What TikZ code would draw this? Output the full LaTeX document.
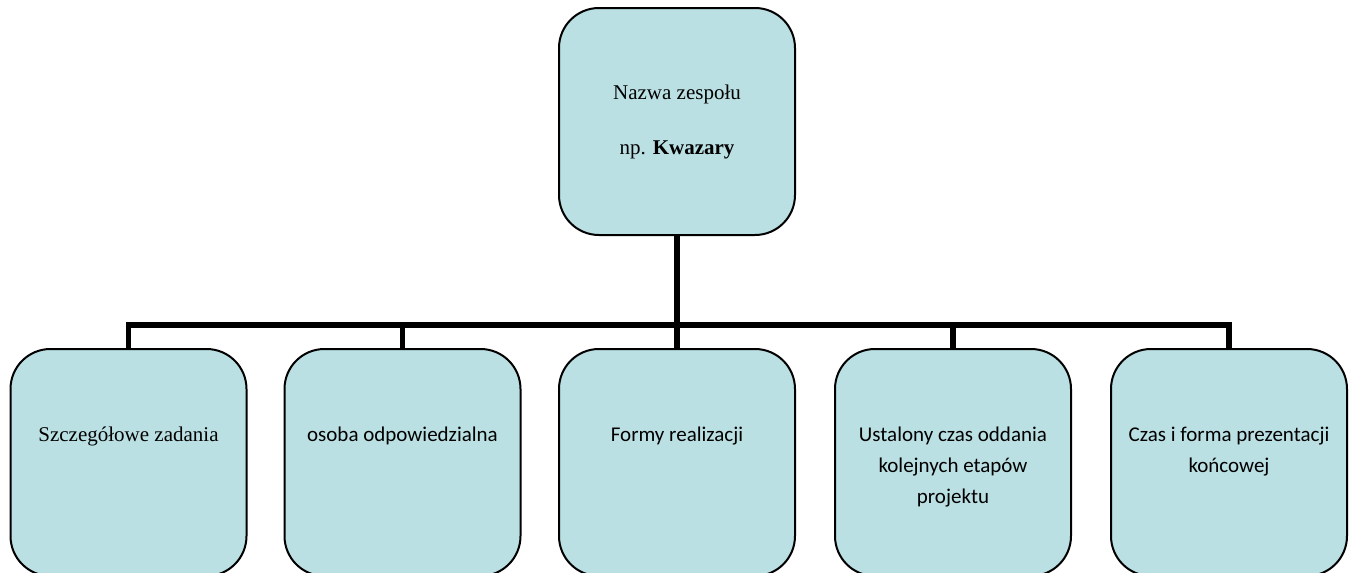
\documentclass[tikz,border=0pt]{standalone}
\usepackage{fontspec}
\setmainfont{Liberation Serif}
\newfontfamily\calibri{Carlito}
\usetikzlibrary{positioning}
\definecolor{boxfill}{RGB}{186, 224, 227}

\begin{document}
\begin{tikzpicture}[x=0.5pt, y=-0.5pt,
        box/.style={rectangle, draw, line width=1pt, rounded corners=20pt, fill=boxfill, minimum width=118pt, minimum height=113.5pt, align=center},
        conn/.style={line width=2.6pt, line join=miter},
        label/.style={anchor=north, inner sep=0pt, align=center, font=\fontsize{10.5}{15.5}\selectfont},
        sanslabel/.style={label, font=\calibri\fontsize{10.5}{15.5}\selectfont}
    ]
        \clip (0, 0) rectangle (1351, 573);

        % team box
        \node[box, font=\fontsize{10.5}{15.5}\selectfont] (team) at (677, 121.5) {Nazwa zespołu\\[12pt]np. \textbf{Kwazary}};

        % lower row
        \node[box] (tasks) at (128.5, 462.5) {};
        \node[box] (person) at (402.5, 462.5) {};
        \node[box] (forms) at (677, 462.5) {};
        \node[box] (stages) at (953, 462.5) {};
        \node[box] (final) at (1229, 462.5) {};

        \node[label] (tasks-txt) at (128.5, 419.5) {\strut Szczegółowe zadania};
        \node[sanslabel] (person-txt) at (402.5, 419.5) {\strut osoba odpowiedzialna};
        \node[sanslabel] (forms-txt) at (677, 419.5) {\strut Formy realizacji};
        \node[sanslabel] (stages-txt) at (953, 419.5) {\strut Ustalony czas oddania\\kolejnych etapów\\projektu};
        \node[sanslabel] (final-txt) at (1229, 419.5) {\strut Czas i forma prezentacji\\końcowej};

        % connectors
        \coordinate (bar) at (677, 325);
        \draw[conn] (team.south) -- (bar);
        \draw[conn] (tasks.north) -- (tasks.north |- bar) -- (final.north |- bar) -- (final.north);
        \foreach \n in {person, forms, stages}
            \draw[conn] (\n.north) -- (\n.north |- bar);
    \end{tikzpicture}
\end{document}
